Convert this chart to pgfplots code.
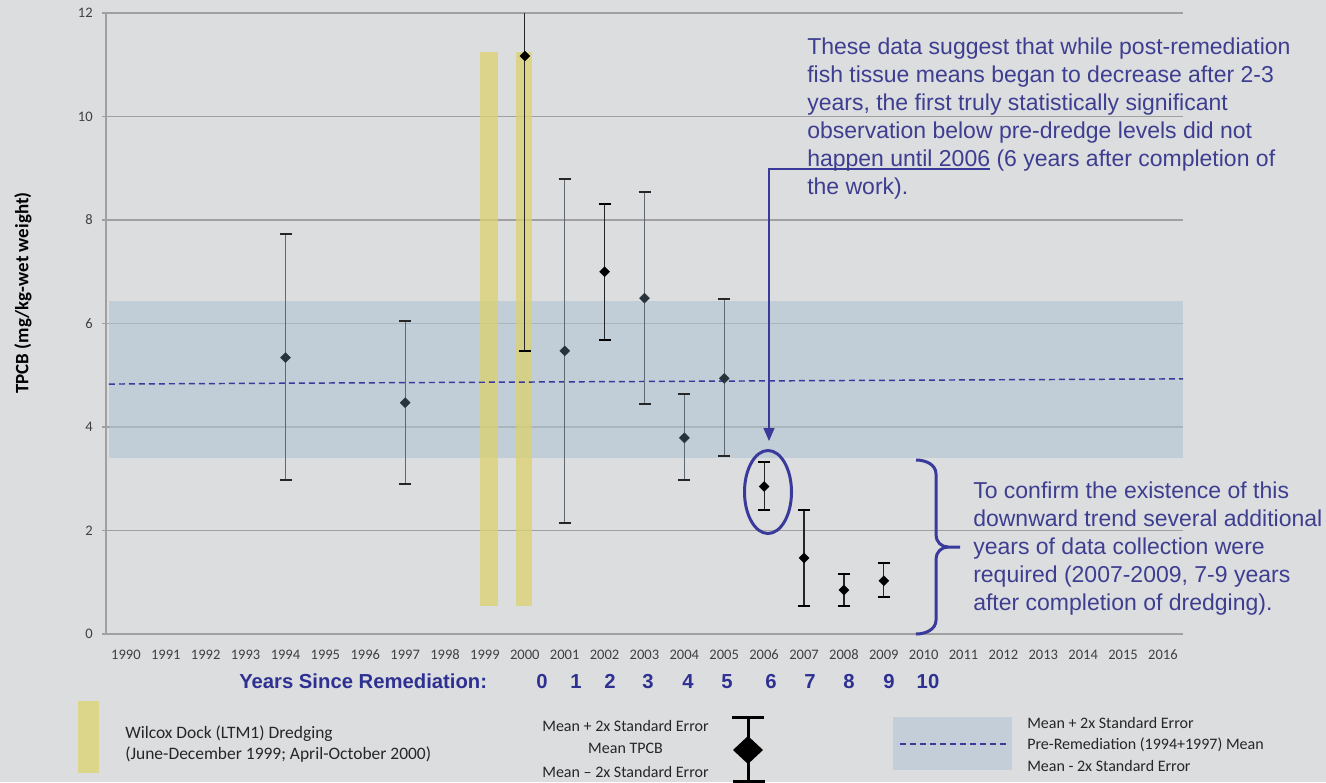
\documentclass[border=0pt]{standalone}
\usepackage{pgfplots}
\pgfplotsset{compat=1.18}
\usepackage{fontspec}
\setmainfont{Carlito}
\newfontfamily\arial{Liberation Sans}
\usetikzlibrary{arrows.meta}
\definecolor{bg}{RGB}{220,221,223}
\definecolor{band}{RGB}{178,196,211}
\definecolor{bandsolid}{RGB}{195,206,216}
\definecolor{dredge}{RGB}{219,210,110}
\definecolor{dredgesolid}{RGB}{219,214,138}
\definecolor{annot}{RGB}{62,62,145}
\definecolor{annotline}{RGB}{58,58,155}
\definecolor{yrs}{RGB}{46,49,146}
\definecolor{gridc}{RGB}{160,160,160}
\definecolor{ticklab}{RGB}{64,64,64}
\definecolor{barA}{RGB}{95,105,115}
\definecolor{markA}{RGB}{40,52,60}
\begin{document}
\begin{tikzpicture}[x=0.75pt,y=-0.75pt]
\path[use as bounding box, fill=bg] (0,0) rectangle (1326,782);
\begin{axis}[
  at={(79.5pt,-9.75pt)}, anchor=north west,
  scale only axis, width=807.75pt, height=465.75pt,
  xmin=1989.5, xmax=2016.5, ymin=0, ymax=12,
  axis x line*=bottom, axis y line*=left,
  axis line style={gridc, line width=0.9pt},
  xtick={1990,...,2016},
  minor xtick={1989.5,1990.5,...,2016.5},
  ytick={0,2,...,12},
  ymajorgrids, grid style={gridc, line width=0.9pt},
  tick align=outside,
  xtick style={draw=none},
  minor x tick style={gridc, line width=0.9pt},
  minor tick length=3.75pt,
  ytick style={gridc, line width=0.9pt},
  major tick length=3pt,
  /pgf/number format/assume math mode=true,
  /pgf/number format/1000 sep={},
  tick label style={font=\fontsize{10.9}{12}\selectfont, text=ticklab},
  xticklabel style={yshift=-5.5pt},
  yticklabel style={xshift=-3.5pt},
]
% pre-remediation band
\addplot[draw=none, fill=band, fill opacity=0.6] coordinates {(1989.575,3.41) (2016.5,3.41) (2016.5,6.43) (1989.575,6.43)};
% dredging periods
\addplot[draw=none, fill=dredge, fill opacity=0.75] coordinates {(1998.87,0.55) (1999.32,0.55) (1999.32,11.25) (1998.87,11.25)};
\addplot[draw=none, fill=dredge, fill opacity=0.75] coordinates {(1999.78,0.55) (2000.18,0.55) (2000.18,11.25) (1999.78,11.25)};
% pre-remediation mean
\addplot[annotline, line width=1.1pt, dash pattern=on 4.5pt off 3pt] coordinates {(1989.575,4.83) (2016.5,4.93)};
% grey series
\addplot[barA, only marks, mark=square*, mark size=2.65pt,
  mark options={rotate=45, fill=markA, draw=markA, line width=0.3pt},
  error bars/.cd, y dir=both, y explicit,
  error bar style={barA, line width=1pt},
  error mark options={rotate=90, black!85, line width=1.5pt, mark size=4.5pt}]
  coordinates {
  (1994,5.34) += (0,2.39) -= (0,2.37)
  (1997,4.47) += (0,1.57) -= (0,1.57)
  (2001,5.47) += (0,3.32) -= (0,3.32)
  (2003,6.49) += (0,2.05) -= (0,2.05)
  (2004,3.79) += (0,0.85) -= (0,0.82)
  (2005,4.94) += (0,1.54) -= (0,1.50)
  };
% black series
\addplot[black, only marks, mark=square*, mark size=2.65pt,
  mark options={rotate=45, fill=black, draw=black, line width=0.3pt},
  error bars/.cd, y dir=both, y explicit,
  error bar style={black!85, line width=0.85pt},
  error mark options={rotate=90, black, line width=1.5pt, mark size=4.5pt}]
  coordinates {
  (2000,11.17) += (0,3.00) -= (0,5.70)
  (2002,7.00) += (0,1.30) -= (0,1.31)
  (2006,2.85) += (0,0.47) -= (0,0.45)
  (2007,1.47) += (0,0.93) -= (0,0.92)
  (2008,0.85) += (0,0.30) -= (0,0.31)
  (2009,1.03) += (0,0.34) -= (0,0.32)
  };
\end{axis}
% y label
\node[rotate=90, inner sep=0, font=\bfseries\fontsize{14.2}{16}\selectfont] at (23,293) {TPCB (mg/kg-wet weight)};
% annotation 1
\begin{scope}[every node/.style={anchor=base west, inner sep=0, text=annot, font=\arial\fontsize{17.25}{21}\selectfont}]
\node at (807,54.5) {These data suggest that while post-remediation};
\node at (807,82.5) {fish tissue means began to decrease after 2-3};
\node at (807,110.5) {years, the first truly statistically significant};
\node at (807,138.5) {observation below pre-dredge levels did not};
\node at (807,166.5) {happen until 2006 (6 years after completion of};
\node at (807,194.5) {the work).};
\node at (973,498) {To confirm the existence of this};
\node at (973,526) {downward trend several additional};
\node at (973,554) {years of data collection were};
\node at (973,582) {required (2007-2009, 7-9 years};
\node at (973,610) {after completion of dredging).};
\end{scope}
\draw[annotline, line width=1.1pt, -{Triangle[length=9.75pt,width=8.25pt]}] (990,169) -- (769,169) -- (769,441);
\draw[annotline, line width=2.25pt] (768,492) ellipse [x radius=23.5, y radius=41.5];
\draw[annotline, line width=2.25pt] (916,460) to[out=0,in=90] (936,474) -- (936,535) to[out=-90,in=180] (948,547) -- (960,547);
\draw[annotline, line width=2.25pt] (948,547) to[out=180,in=90] (936,559) -- (936,620) to[out=-90,in=0] (916,634);
% years since remediation
\begin{scope}[every node/.style={anchor=base, inner sep=0, text=yrs, font=\arial\bfseries\fontsize{15.2}{18}\selectfont}]
\node[anchor=base west] at (239,688) {Years Since Remediation:};
\node at (542,688) {0};
\node at (576,688) {1};
\node at (610,688) {2};
\node at (648,688) {3};
\node at (688,688) {4};
\node at (727,688) {5};
\node at (771,688) {6};
\node at (810,688) {7};
\node at (849,688) {8};
\node at (889,688) {9};
\node at (928,688) {10};
\end{scope}
% legend: dredging
\fill[dredgesolid] (78,701) rectangle (99,773);
\begin{scope}[every node/.style={anchor=base west, inner sep=0, text=black!85, font=\fontsize{13.1}{15}\selectfont}]
\node at (125,738) {Wilcox Dock (LTM1) Dredging};
\node at (125,759) {(June-December 1999; April-October 2000)};
\end{scope}
% legend: error bar
\begin{scope}[every node/.style={anchor=base, inner sep=0, text=black!85, font=\fontsize{12}{14}\selectfont}]
\node at (625.5,731.3) {Mean + 2x Standard Error};
\node at (625.5,753.6) {Mean TPCB};
\node at (625.5,777.6) {Mean -- 2x Standard Error};
\end{scope}
\draw[black, line width=2.25pt] (732,717) -- (764,717);
\draw[black, line width=2.25pt] (733,781) -- (765,781);
\draw[black, line width=2.25pt] (748,717) -- (748,781);
\fill[black] (748,736) -- (763,750) -- (748,764) -- (733,750) -- cycle;
% legend: band
\fill[bandsolid] (893,717) rectangle (1012,770);
\draw[annotline, line width=1.1pt, dash pattern=on 4.5pt off 3pt] (900,744) -- (1007,744);
\begin{scope}[every node/.style={anchor=base west, inner sep=0, text=black!85, font=\fontsize{12}{14}\selectfont}]
\node at (1027,728.6) {Mean + 2x Standard Error};
\node at (1027,749.3) {Pre-Remediation (1994+1997) Mean};
\node at (1027,771.3) {Mean - 2x Standard Error};
\end{scope}
\end{tikzpicture}
\end{document}
